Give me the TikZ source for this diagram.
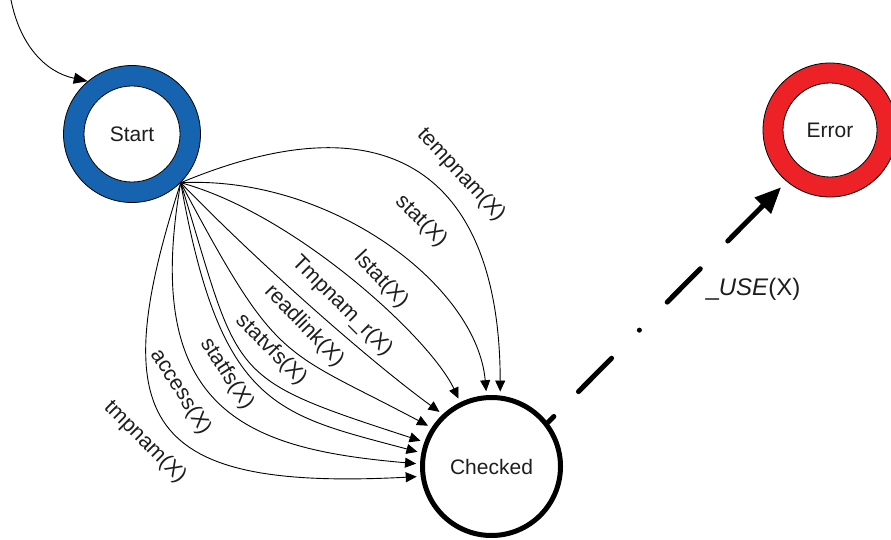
\documentclass[tikz,border=0pt]{standalone}
\usepackage{fontspec}
\setmainfont{Liberation Sans}
\usetikzlibrary{arrows.meta}
\definecolor{startblue}{RGB}{22,100,176}
\definecolor{errorred}{RGB}{236,34,39}
\definecolor{ink}{RGB}{30,30,30}
\begin{document}
\begin{tikzpicture}[x=1pt,y=-1pt,
  ring/.style={circle, draw=black, line width=0.8pt, minimum size=#1, inner sep=0pt},
  txt/.style={font=\fontsize{21}{25}\selectfont, text=ink},
  lbl/.style={font=\fontsize{21.5}{25}\selectfont, text=ink, inner sep=0pt},
  edge/.style={draw=black, line width=0.9pt, -{Triangle[length=11pt,width=10pt]}, shorten >=4pt},
  fail/.style={draw=black, line width=5pt, line cap=round,
    dash pattern=on 8.5pt off 35pt on 47pt off 39.5pt on 0pt off 39.5pt on 47pt off 39pt on 400pt,
    -{Triangle[length=26pt,width=22pt]}, shorten >=8pt}]
\useasboundingbox (0,0) rectangle (891,540);

% states
\node[ring=137pt, fill=startblue] (S) at (132,134) {};
\node[ring=96pt, fill=white, txt] (Sin) at (S) {Start};
\node[ring=134pt, fill=errorred] (E) at (830,130) {};
\node[ring=94pt, fill=white, txt] (Ein) at (E) {Error};
\node[circle, draw=black, line width=5pt, minimum size=138pt, inner sep=0pt, fill=white, txt] (K) at (491.5,466.5) {Checked};

% initial transition
\coordinate (init) at (11,0);
\draw[edge, -{Triangle[length=14pt,width=11pt]}, shorten >=0pt] (init) .. controls (20,45) and (45,72) .. (S.130);

% calls that reach the checked state
\draw[edge] (S.-45) .. controls (403,90) and (500,190) .. (K.83);
\draw[edge] (S.-45) .. controls (330.8,175.2) and (476.9,285.6) .. (K.94);
\draw[edge] (S.-45) .. controls (294.6,213.5) and (430.3,338.1) .. (K.116);
\draw[edge] (S.-45) .. controls (257.4,262.1) and (369.9,361.3) .. (K.133);
\draw[edge] (S.-45) .. controls (278.6,366.7) and (280,347.1) .. (K.147);
\draw[edge] (S.-45) .. controls (241.2,380) and (223.7,376.8) .. (K.160);
\draw[edge] (S.-45) .. controls (220.8,408.5) and (277.1,414.2) .. (K.169);
\draw[edge] (S.-45) .. controls (140,415) and (251.7,449.3) .. (K.178);
\draw[edge] (S.-45) .. controls (103.2,422.6) and (144.2,491) .. (K.188);

% edge labels
\node[lbl, rotate=-47] (l1) at (461,175) {tempnam(X)};
\node[lbl, rotate=-45] (l2) at (421,221) {stat(X)};
\node[lbl, rotate=-47] (l3) at (381,280) {lstat(X)};
\node[lbl, rotate=-45] (l4) at (342,306) {Tmpnam\_r(X)};
\node[lbl, rotate=-46] (l5) at (304,326) {readlink(X)};
\node[lbl, rotate=-45] (l6) at (271,350) {statvfs(X)};
\node[lbl, rotate=-57] (l7) at (227,374) {statfs(X)};
\node[lbl, rotate=-58] (l8) at (181,392) {access(X)};
\node[lbl, rotate=-45] (l9) at (145,442) {tmpnam(X)};

% use after check
\draw[fail] (K.38) -- (E.230);
\node[font=\fontsize{24}{28}\selectfont, text=ink, inner sep=0pt] (use) at (753,289) {\_\textit{USE}(X)};
\end{tikzpicture}
\end{document}
